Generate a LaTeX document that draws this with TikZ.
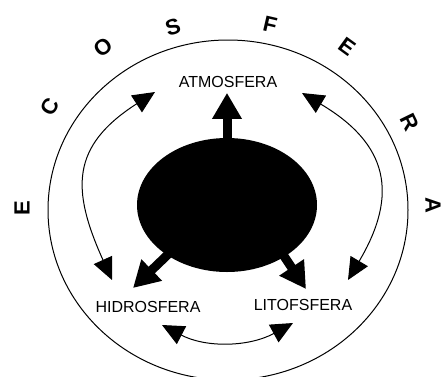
\documentclass[tikz,border=0pt]{standalone}
\usepackage{fontspec}
\setmainfont{Liberation Sans}
\usetikzlibrary{arrows.meta, shapes.geometric}

\begin{document}
\begin{tikzpicture}[x=1pt, y=-1pt,
    exchange/.style={line width=1pt,
        {Triangle[length=22pt, width=20pt]}-{Triangle[length=22pt, width=20pt]}},
    flow/.style={line width=9pt, shorten <=-6pt, -{Triangle[length=26pt, width=28pt]}},
    ring/.style={line width=1pt},
    sphere/.style={font=\fontsize{16}{16}\selectfont, inner sep=2pt},
    ringletter/.style={font=\fontsize{22}{22}\selectfont\bfseries, inner sep=0pt},
    core/.style={ellipse, fill=black, minimum width=180pt, minimum height=134pt, inner sep=0pt}
]
\useasboundingbox (0,0) rectangle (444,376);
\clip (0,0) rectangle (444,376);

% === Outer ring ===
\draw[ring] (228,210) ellipse [x radius=180pt, y radius=170pt];

% === Ring letters ===
\foreach \ch/\px/\py/\rot [count=\i] in {E/22/208/90, C/50/107/60, O/103/47/37,
        S/173/27/17, F/270/25/-13, E/347/47/-36, R/410/122/-64, A/433/205/-89}
    \node[ringletter, rotate=\rot] (ring\i) at (\px,\py) {\ch};

% === Core and spheres ===
\node[core] (core) at (227,205) {};
\node[sphere] (atmos) at (228,82) {ATMOSFERA};
\node[sphere] (hidro) at (148,307) {HIDROSFERA};
\node[sphere] (lito) at (303,305) {LITOFSFERA};

% === Thick arrows out of the core ===
\coordinate (hidrotip) at (133,288);
\coordinate (litotip) at (306,289);
\draw[flow, shorten >=3pt] (core.north) -- (core.north |- atmos.south);
\draw[flow] (core.220) -- (hidrotip);
\draw[flow] (core.318) -- (litotip);

% === Exchange arcs ===
\coordinate (lt) at (155,92);
\coordinate (lb) at (112,280);
\coordinate (rt) at (302,93);
\coordinate (rb) at (348,280);
\coordinate (bl) at (162,325);
\coordinate (br) at (293,323);
\draw[exchange] (lt) .. controls (71,146) and (71,189) .. (lb);
\draw[exchange] (rt) .. controls (388,144) and (399,194) .. (rb);
\draw[exchange] (bl) .. controls (206,348) and (249,347) .. (br);

\end{tikzpicture}
\end{document}
